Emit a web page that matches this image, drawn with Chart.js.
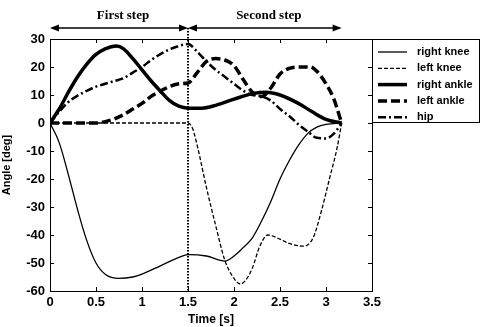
<!DOCTYPE html>
<html>
<head>
<meta charset="utf-8">
<script src="https://cdn.jsdelivr.net/npm/chart.js@4"></script>
<style>
  html, body { margin: 0; padding: 0; background: #fff; }
  #wrap { width: 481px; height: 327px; }
</style>
</head>
<body>
<div id="wrap"><canvas id="gait"></canvas></div>
<script>
// joint angles, time in seconds, angle in degrees
const rightKneeT = [0, 0.1, 0.2, 0.3, 0.4, 0.5, 0.6, 0.75, 0.9, 1.0, 1.2, 1.4, 1.5, 1.7, 1.9, 2.0, 2.1, 2.2, 2.3, 2.4, 2.5, 2.6, 2.7, 2.8, 2.9, 3.0, 3.17];
const rightKneeY = [0, -7, -18.5, -31, -42, -50, -54, -55.5, -55, -54, -51, -48, -47, -47.5, -49.3, -47.5, -44.5, -41, -35, -28, -20, -13.5, -8, -3.8, -1.5, -0.5, 0];

const leftKneeT = [0, 1.5, 1.55, 1.6, 1.7, 1.8, 1.9, 2.0, 2.07, 2.13, 2.2, 2.28, 2.37, 2.5, 2.6, 2.75, 2.86, 2.95, 3.04, 3.12, 3.17];
const leftKneeY = [0, 0, -2, -8, -23, -36.5, -49, -55.5, -57.5, -56, -51.8, -44, -40, -41.5, -43, -44, -41, -31.4, -19.6, -9, 0];

const rightAnkleT = [0, 0.1, 0.2, 0.3, 0.4, 0.5, 0.6, 0.72, 0.8, 0.9, 1.0, 1.1, 1.2, 1.3, 1.4, 1.5, 1.65, 1.8, 2.0, 2.2, 2.35, 2.5, 2.7, 2.85, 3.0, 3.17];
const rightAnkleY = [0, 5, 11, 16.5, 21, 24.5, 26.5, 27.5, 26.5, 23, 19, 15, 11.4, 8, 6, 5.3, 5.3, 6.3, 8.5, 10.5, 11, 10, 7, 4, 1.3, 0];

const leftAnkleT = [0, 0.5, 0.6, 0.7, 0.8, 0.9, 1.0, 1.1, 1.2, 1.3, 1.4, 1.5, 1.6, 1.7, 1.8, 1.9, 2.0, 2.1, 2.2, 2.3, 2.4, 2.5, 2.6, 2.7, 2.83, 2.9, 3.0, 3.08, 3.17];
const leftAnkleY = [0, 0, 0.5, 1.5, 3, 5, 7, 9.5, 11.4, 13, 14, 14.3, 18, 22, 23, 22.5, 20.5, 15.5, 11, 9.5, 12.5, 17.5, 19.5, 20, 20, 18.5, 14, 9, 0];

const hipT = [0, 0.1, 0.2, 0.3, 0.4, 0.5, 0.6, 0.7, 0.8, 0.9, 1.0, 1.1, 1.2, 1.3, 1.4, 1.5, 1.6, 1.7, 1.8, 1.9, 2.0, 2.1, 2.2, 2.3, 2.4, 2.5, 2.6, 2.7, 2.8, 2.9, 3.0, 3.08, 3.17];
const hipY = [0, 4, 7.5, 9.8, 11.5, 13, 14, 15, 16, 18, 20, 22.5, 24.6, 26.3, 27.5, 28.2, 25.5, 22, 19, 16.5, 14, 11.5, 10, 9.5, 8, 5, 2.5, -0.5, -3, -5.3, -5.5, -4, 0];

const seriesNames = ['right knee', 'left knee', 'right ankle', 'left ankle', 'hip'];
const stepNames = ['First step', 'Second step'];
const stepBounds = [0, 1.5, 3.17];

const pts = (t, y) => t.map((v, i) => ({ x: v, y: y[i] }));

function line(label, t, y, width, dash) {
    return {
        label: label,
        data: pts(t, y),
        borderColor: '#000',
        borderWidth: width,
        borderDash: dash,
        pointRadius: 0,
        fill: false,
        cubicInterpolationMode: 'monotone'
    };
}

const sans = '"Liberation Sans", Arial, sans-serif';

// box, inward ticks, legend, step arrows
const decor = {
    id: 'decor',
    afterDatasetsDraw(chart) {
        const c = chart.ctx;
        const a = chart.chartArea;
        const xs = chart.scales.x, ys = chart.scales.y;
        c.save();
        c.strokeStyle = '#000';
        c.lineWidth = 1;
        c.setLineDash([]);
        c.strokeRect(a.left + 0.5, a.top + 0.5, a.right - a.left, a.bottom - a.top);
        xs.ticks.forEach(t => {
            const p = Math.round(xs.getPixelForValue(t.value)) + 0.5;
            c.beginPath();
            c.moveTo(p, a.bottom); c.lineTo(p, a.bottom - 4);
            c.moveTo(p, a.top); c.lineTo(p, a.top + 4);
            c.stroke();
        });
        ys.ticks.forEach(t => {
            const p = Math.round(ys.getPixelForValue(t.value)) + 0.5;
            c.beginPath();
            c.moveTo(a.left, p); c.lineTo(a.left + 4, p);
            c.moveTo(a.right, p); c.lineTo(a.right - 4, p);
            c.stroke();
        });

        // split line between the two steps
        const xm = xs.getPixelForValue(stepBounds[1]);
        const arrowY = 28;
        c.lineWidth = 2;
        c.setLineDash([1.5, 1.5]);
        c.beginPath();
        c.moveTo(xm, arrowY);
        c.lineTo(xm, a.bottom);
        c.stroke();

        // step arrows
        c.setLineDash([]);
        c.lineWidth = 1.5;
        c.fillStyle = '#000';
        function head(x, dir) {
            c.beginPath();
            c.moveTo(x, arrowY);
            c.lineTo(x + dir * 9, arrowY - 3.5);
            c.lineTo(x + dir * 9, arrowY + 3.5);
            c.closePath();
            c.fill();
        }
        c.font = 'bold 13px "Liberation Serif", "Times New Roman", serif';
        c.textAlign = 'center';
        c.textBaseline = 'middle';
        for (let i = 0; i < 2; i++) {
            const x0 = xs.getPixelForValue(stepBounds[i]);
            const x1 = xs.getPixelForValue(stepBounds[i + 1]);
            c.beginPath();
            c.moveTo(x0 + 2, arrowY);
            c.lineTo(x1 - 2, arrowY);
            c.stroke();
            head(x0, 1);
            head(x1, -1);
            c.fillText(stepNames[i], (x0 + x1) / 2 + 4, 16);
        }

        // legend box
        const lx = a.right, ly = 39, lw = 108, lh = 84;
        c.fillStyle = '#fff';
        c.fillRect(lx, ly, lw, lh);
        c.lineWidth = 1;
        c.strokeRect(lx + 0.5, ly + 0.5, lw - 1, lh - 1);
        c.font = 'bold 11px ' + sans;
        c.textAlign = 'left';
        c.fillStyle = '#000';
        chart.data.datasets.forEach((ds, i) => {
            const y = ly + 13 + i * 16.3;
            c.lineWidth = ds.borderWidth;
            c.setLineDash(ds.borderDash || []);
            c.beginPath();
            c.moveTo(lx + 6, y);
            c.lineTo(lx + 35, y);
            c.stroke();
            c.setLineDash([]);
            c.fillText(ds.label, lx + 45, y);
        });
        c.restore();
    }
};

new Chart(document.getElementById('gait'), {
    type: 'line',
    data: {
        datasets: [
            line(seriesNames[0], rightKneeT, rightKneeY, 1.3, []),
            line(seriesNames[1], leftKneeT, leftKneeY, 1.3, [4, 2]),
            line(seriesNames[2], rightAnkleT, rightAnkleY, 3.5, []),
            line(seriesNames[3], leftAnkleT, leftAnkleY, 3.5, [9, 4]),
            line(seriesNames[4], hipT, hipY, 2.5, [8, 3, 2, 3])
        ]
    },
    options: {
        responsive: true,
        maintainAspectRatio: false,
        animation: false,
        layout: { padding: { top: 39, right: 109, left: 0, bottom: 0 } },
        plugins: {
            legend: { display: false },
            tooltip: { enabled: false }
        },
        scales: {
            x: {
                type: 'linear',
                min: 0,
                max: 3.5,
                grid: { display: false, drawTicks: false },
                border: { display: false },
                ticks: {
                    stepSize: 0.5,
                    padding: 4,
                    color: '#000',
                    font: { family: sans, size: 13, weight: 'bold' },
                    maxRotation: 0,
                    callback: v => String(v)
                },
                title: {
                    display: true,
                    text: 'Time [s]',
                    color: '#000',
                    font: { family: sans, size: 12, weight: 'bold' },
                    padding: { top: 1, bottom: 0 }
                },
                afterFit: s => { s.height = 36; }
            },
            y: {
                min: -60,
                max: 30,
                grid: { display: false, drawTicks: false },
                border: { display: false },
                ticks: {
                    stepSize: 10,
                    padding: 5,
                    color: '#000',
                    font: { family: sans, size: 13, weight: 'bold' },
                    callback: v => String(v)
                },
                title: {
                    display: true,
                    text: 'Angle [deg]',
                    color: '#000',
                    font: { family: sans, size: 11, weight: 'bold' },
                    padding: { top: 0, bottom: 2 }
                },
                afterFit: s => { s.width = 50; }
            }
        }
    },
    plugins: [decor]
});
</script>
</body>
</html>
